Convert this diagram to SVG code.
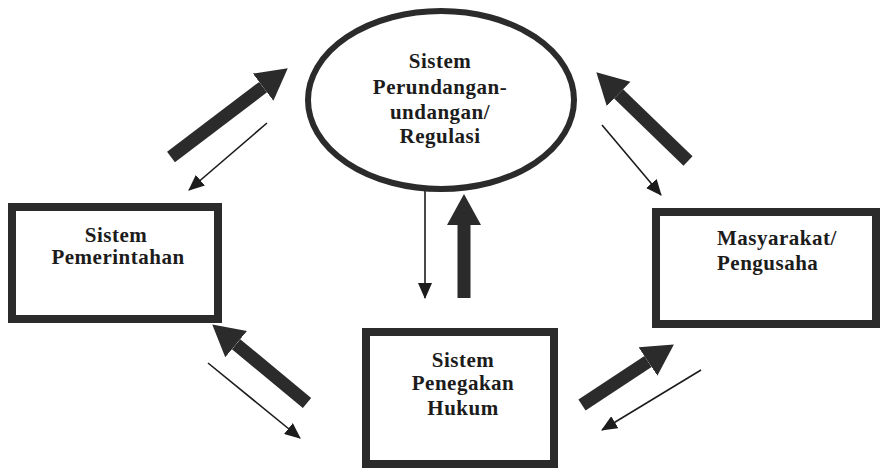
<svg xmlns="http://www.w3.org/2000/svg" width="880" height="471" viewBox="0 0 880 471">
<style>
.node{fill:#fff;stroke:#2b2b2b;stroke-width:8}
.ell{fill:#fff;stroke:#2b2b2b;stroke-width:6}
.lbl{font-family:"Liberation Serif","Times New Roman",serif;font-weight:bold;font-size:21px;letter-spacing:0.5px;fill:#1c1c1c}
.mid{text-anchor:middle}
.thick{stroke:#2b2b2b;stroke-width:13;fill:none}
.thin{stroke:#1c1c1c;stroke-width:1.6;fill:none}
</style>
<defs>
<marker id="bigHead" markerUnits="userSpaceOnUse" markerWidth="32" markerHeight="36" viewBox="0 0 32 36" refX="0" refY="18" orient="auto">
<path d="M0,1 L31,18 L0,35 Z" fill="#2b2b2b"/>
</marker>
<marker id="smallHead" markerUnits="userSpaceOnUse" markerWidth="16" markerHeight="14" viewBox="0 0 16 14" refX="15" refY="7" orient="auto">
<path d="M0,0 L16,7 L0,14 Z" fill="#1c1c1c"/>
</marker>
</defs>
<g id="connectors">
<line class="thick" x1="171" y1="157" x2="263.1" y2="87.1" marker-end="url(#bigHead)"/>
<line class="thin" x1="267" y1="123" x2="189" y2="190" marker-end="url(#smallHead)"/>
<line class="thick" x1="688" y1="161" x2="618.6" y2="93.9" marker-end="url(#bigHead)"/>
<line class="thin" x1="602" y1="125" x2="661" y2="195" marker-end="url(#smallHead)"/>
<line class="thin" x1="425" y1="188" x2="425" y2="298" marker-end="url(#smallHead)"/>
<line class="thick" x1="464" y1="298" x2="464" y2="225" marker-end="url(#bigHead)"/>
<line class="thick" x1="307" y1="403" x2="236.1" y2="344.2" marker-end="url(#bigHead)"/>
<line class="thin" x1="208" y1="363" x2="300" y2="438" marker-end="url(#smallHead)"/>
<line class="thick" x1="582" y1="405" x2="648" y2="361.5" marker-end="url(#bigHead)"/>
<line class="thin" x1="701" y1="370" x2="602" y2="430" marker-end="url(#smallHead)"/>
</g>
<g id="regulasi">
<ellipse class="ell" cx="441" cy="100" rx="133" ry="89"/>
<text class="lbl mid" x="440" y="68">Sistem</text>
<text class="lbl mid" x="440" y="94">Perundangan-</text>
<text class="lbl mid" x="440" y="119">undangan/</text>
<text class="lbl mid" x="440" y="143">Regulasi</text>
</g>
<g id="pemerintahan">
<rect class="node" x="12" y="207" width="206" height="112"/>
<text class="lbl mid" x="116" y="242">Sistem</text>
<text class="lbl mid" x="118" y="264">Pemerintahan</text>
</g>
<g id="masyarakat">
<rect class="node" x="656" y="212" width="220" height="112"/>
<text class="lbl" x="717" y="245">Masyarakat/</text>
<text class="lbl" x="717" y="270">Pengusaha</text>
</g>
<g id="penegakan">
<rect class="node" x="366" y="332" width="188" height="132"/>
<text class="lbl mid" x="463" y="367">Sistem</text>
<text class="lbl mid" x="463" y="390">Penegakan</text>
<text class="lbl mid" x="463" y="415">Hukum</text>
</g>
</svg>
